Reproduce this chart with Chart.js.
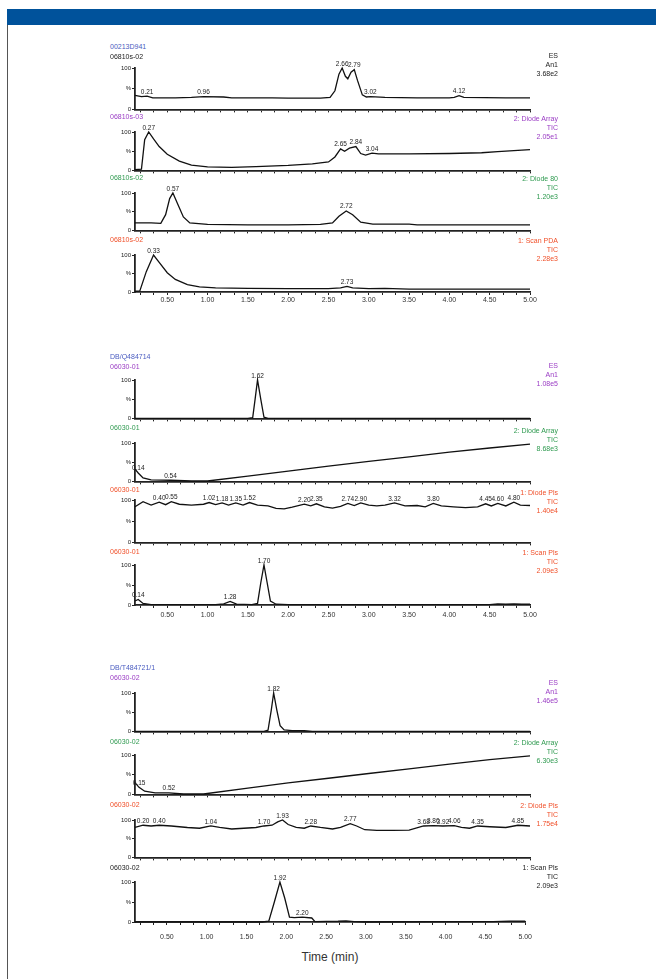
<!DOCTYPE html>
<html><head><meta charset="utf-8">
<script src="https://cdn.jsdelivr.net/npm/chart.js@4.4.1/dist/chart.umd.min.js"></script>
<style>
html,body{margin:0;padding:0;background:#fff;width:656px;height:979px;overflow:hidden;position:relative;font-family:"Liberation Sans",Arial,sans-serif;}
#bar{position:absolute;left:7px;top:9px;width:649px;height:16px;background:#00529b;}
#border{position:absolute;left:7px;top:25px;width:1px;height:954px;background:#555;}
.pnl{position:absolute;left:100px;width:440px;}
.lbl{position:absolute;left:110px;font-size:7px;line-height:8px;white-space:nowrap;}
.rl{position:absolute;right:98px;font-size:7px;line-height:9px;text-align:right;white-space:nowrap;}
#xt{position:absolute;left:230px;width:200px;top:950px;text-align:center;font-size:12px;color:#333;}
</style></head><body>
<div id="bar"></div><div id="border"></div>
<div id="xt">Time (min)</div>
<script>
// ---------- x axis ticks ----------
const xMajor = [0.5, 1.0, 1.5, 2.0, 2.5, 3.0, 3.5, 4.0, 4.5, 5.0];
const xTickLabels = ["0.50","1.00","1.50","2.00","2.50","3.00","3.50","4.00","4.50","5.00"];
const yTickValues = [0, 50, 100];
const yTickText = ["0", "%", "100"];

// ---------- sample 1 : 00213D941 ----------
const s1Titles = ["00213D941", "06810s-02", "06810s-03", "06810s-02", "06810s-02"];
const s1Right = [["ES", "An1", "3.68e2"], ["2: Diode Array", "TIC", "2.05e1"], ["2: Diode 80", "TIC", "1.20e3"], ["1: Scan PDA", "TIC", "2.28e3"]];
const s1ES = [[0.10,34],[0.18,31],[0.25,32],[0.32,28],[0.60,28],[0.80,29],[0.95,31],[1.20,30],[1.30,28],[1.80,28],[2.00,27],[2.40,27],[2.52,29],[2.58,45],[2.63,85],[2.67,100],[2.71,80],[2.74,74],[2.78,90],[2.82,96],[2.86,70],[2.92,35],[2.97,30],[3.02,31],[3.20,29],[3.60,28],[4.00,28],[4.06,29],[4.12,33],[4.18,29],[4.70,28],[5.00,28]];
const s1ESPeaks = [[0.25,"0.21"],[0.95,"0.96"],[2.67,"2.66"],[2.82,"2.79"],[3.02,"3.02"],[4.12,"4.12"]];
const s1DAD = [[0.10,2],[0.18,3],[0.22,80],[0.27,100],[0.33,82],[0.40,62],[0.50,42],[0.65,24],[0.80,14],[1.00,9],[1.30,8],[1.60,10],[2.00,13],[2.30,17],[2.50,22],[2.58,35],[2.65,56],[2.70,50],[2.76,58],[2.84,62],[2.90,44],[2.96,40],[3.04,45],[3.12,43],[3.50,43],[4.00,44],[4.40,46],[4.60,49],[5.00,54]];
const s1DADPeaks = [[0.27,"0.27"],[2.65,"2.65"],[2.84,"2.84"],[3.04,"3.04"]];
const s1D80 = [[0.10,20],[0.30,20],[0.42,19],[0.48,42],[0.53,85],[0.57,100],[0.62,75],[0.70,36],[0.78,20],[1.00,16],[1.50,15],[2.00,15],[2.40,16],[2.55,20],[2.63,38],[2.72,52],[2.80,42],[2.90,22],[3.05,17],[3.50,17],[3.60,15],[5.00,15]];
const s1D80Peaks = [[0.57,"0.57"],[2.72,"2.72"]];
const s1PDA = [[0.10,2],[0.16,3],[0.24,55],[0.33,100],[0.40,80],[0.50,52],[0.60,34],[0.75,20],[0.90,14],[1.10,11],[1.50,10],[2.00,9],[2.50,9],[2.65,11],[2.73,15],[2.80,11],[3.00,9],[3.20,10],[3.50,8],[4.50,8],[5.00,8]];
const s1PDAPeaks = [[0.33,"0.33"],[2.73,"2.73"]];

// ---------- sample 2 : DB/Q484714 ----------
const s2Titles = ["DB/Q484714", "06030-01", "06030-01", "06030-01", "06030-01"];
const s2Right = [["ES", "An1", "1.08e5"], ["2: Diode Array", "TIC", "8.68e3"], ["1: Diode Pls", "TIC", "1.40e4"], ["1: Scan Pls", "TIC", "2.09e3"]];
const s2ES = [[0.10,0],[1.50,0],[1.56,2],[1.59,50],[1.62,100],[1.66,50],[1.70,3],[1.75,0],[5.00,0]];
const s2ESPeaks = [[1.62,"1.62"]];
const s2DA = [[0.10,32],[0.14,22],[0.20,9],[0.30,4],[0.54,3],[0.80,1],[1.00,1],[1.50,14],[2.00,27],[2.50,40],[3.00,52],[3.50,64],[4.00,76],[4.50,87],[5.00,97]];
const s2DAPeaks = [[0.14,"0.14"],[0.54,"0.54"]];
const s2DP = [[0.10,84],[0.20,96],[0.30,88],[0.40,95],[0.48,89],[0.55,96],[0.65,90],[0.80,88],[0.95,90],[1.02,94],[1.10,89],[1.18,93],[1.26,88],[1.35,93],[1.44,88],[1.52,94],[1.62,88],[1.75,86],[1.85,80],[1.95,79],[2.05,83],[2.20,90],[2.28,86],[2.35,91],[2.45,84],[2.55,81],[2.65,85],[2.74,92],[2.82,87],[2.90,93],[3.00,88],[3.10,86],[3.20,88],[3.32,93],[3.45,86],[3.60,87],[3.70,84],[3.80,92],[3.90,86],[4.05,84],[4.20,82],[4.35,84],[4.45,91],[4.52,86],[4.60,92],[4.70,86],[4.80,95],[4.88,88],[5.00,87]];
const s2DPPeaks = [[0.40,"0.40"],[0.55,"0.55"],[1.02,"1.02"],[1.18,"1.18"],[1.35,"1.35"],[1.52,"1.52"],[2.20,"2.20"],[2.35,"2.35"],[2.74,"2.74"],[2.90,"2.90"],[3.32,"3.32"],[3.80,"3.80"],[4.45,"4.45"],[4.60,"4.60"],[4.80,"4.80"]];
const s2SP = [[0.10,10],[0.14,14],[0.20,4],[0.30,1],[1.10,1],[1.20,3],[1.28,9],[1.36,2],[1.55,1],[1.62,4],[1.66,55],[1.70,100],[1.74,55],[1.78,10],[1.85,2],[2.00,1],[4.50,1],[4.60,3],[4.70,2],[4.80,3],[4.90,2],[5.00,2]];
const s2SPPeaks = [[0.14,"0.14"],[1.28,"1.28"],[1.70,"1.70"]];

// ---------- sample 3 : DB/T484721/1 ----------
const s3Titles = ["DB/T484721/1", "06030-02", "06030-02", "06030-02", "06030-02"];
const s3Right = [["ES", "An1", "1.46e5"], ["2: Diode Array", "TIC", "6.30e3"], ["2: Diode Pls", "TIC", "1.75e4"], ["1: Scan Pls", "TIC", "2.09e3"]];
const s3ES = [[0.10,0],[1.70,0],[1.75,3],[1.79,55],[1.82,100],[1.86,55],[1.90,15],[1.95,4],[2.05,2],[2.20,2],[2.30,0],[5.00,0]];
const s3ESPeaks = [[1.82,"1.82"]];
const s3DA = [[0.10,30],[0.15,18],[0.22,8],[0.35,4],[0.52,4],[0.70,1],[0.95,1],[1.50,16],[2.00,29],[2.50,41],[3.00,53],[3.50,65],[4.00,77],[4.50,88],[5.00,98]];
const s3DAPeaks = [[0.15,"0.15"],[0.52,"0.52"]];
const s3DP = [[0.10,80],[0.20,86],[0.30,84],[0.40,86],[0.55,84],[0.75,80],[0.90,78],[1.04,84],[1.15,80],[1.30,76],[1.45,78],[1.60,80],[1.70,84],[1.80,86],[1.87,95],[1.93,100],[2.00,88],[2.10,80],[2.20,78],[2.28,84],[2.40,80],[2.55,76],[2.65,80],[2.77,90],[2.85,84],[2.95,74],[3.10,72],[3.30,72],[3.50,73],[3.68,84],[3.80,85],[3.92,84],[4.06,85],[4.15,80],[4.25,78],[4.35,84],[4.50,82],[4.70,80],[4.85,86],[5.00,84]];
const s3DPPeaks = [[0.20,"0.20"],[0.40,"0.40"],[1.04,"1.04"],[1.70,"1.70"],[1.93,"1.93"],[2.28,"2.28"],[2.77,"2.77"],[3.68,"3.68"],[3.80,"3.80"],[3.92,"3.92"],[4.06,"4.06"],[4.35,"4.35"],[4.85,"4.85"]];
const s3SP = [[0.10,0],[1.70,0],[1.78,2],[1.85,50],[1.92,100],[1.98,60],[2.04,12],[2.10,11],[2.20,12],[2.32,10],[2.36,1],[2.65,2],[2.75,3],[2.85,1],[3.00,0],[4.60,1],[4.80,2],[5.00,2]];
const s3SPPeaks = [[1.92,"1.92"],[2.20,"2.20"]];

// ---------- layout ----------
const C = {blue:"#4a5cc0", purple:"#9a3cc4", green:"#2f9a50", red:"#f0502a", black:"#222"};
const groups = [
  {titles:s1Titles, right:s1Right, titleY:[47,57], labelY:[117,178,240], rightY:[51,114,174,236],
   colors:[C.black,C.purple,C.green,C.red], tickPad:1,
   panels:[[68,110,s1ES,s1ESPeaks],[132,171,s1DAD,s1DADPeaks],[193,231,s1D80,s1D80Peaks],[255,292,s1PDA,s1PDAPeaks]]},
  {titles:s2Titles, right:s2Right, titleY:[357,367], labelY:[428,490,552], rightY:[361,426,488,548],
   colors:[C.purple,C.green,C.red,C.red], tickPad:3,
   panels:[[380,419,s2ES,s2ESPeaks],[443,482,s2DA,s2DAPeaks],[500,543,s2DP,s2DPPeaks],[565,605,s2SP,s2SPPeaks]]},
  {titles:s3Titles, right:s3Right, titleY:[668,678], labelY:[742,805,868], rightY:[678,738,801,863],
   colors:[C.purple,C.green,C.red,C.black], tickPad:8,
   panels:[[693,732,s3ES,s3ESPeaks],[755,795,s3DA,s3DAPeaks],[820,858,s3DP,s3DPPeaks],[882,922,s3SP,s3SPPeaks]]}
];

Chart.defaults.font.family = '"Liberation Sans", Arial, sans-serif';
const minorTicks = [];
for (let k = 1; k <= 30; k++) minorTicks.push(k / 6);

function interp(d, t){
  for (let i = 0; i < d.length - 1; i++){
    if (t >= d[i][0] && t <= d[i+1][0]){
      const f = (t - d[i][0]) / (d[i+1][0] - d[i][0]);
      return d[i][1] + f * (d[i+1][1] - d[i][1]);
    }
  }
  return d[d.length-1][1];
}

function makeChart(top, bottom, data, peaks, withLabels, tickPad){
  const padTop = 10;
  const xh = withLabels ? 10 + tickPad : 4;
  const wrap = document.createElement('div');
  wrap.className = 'pnl';
  wrap.style.top = (top - padTop) + 'px';
  wrap.style.height = (bottom - top + padTop + xh) + 'px';
  const cv = document.createElement('canvas');
  wrap.appendChild(cv);
  document.body.appendChild(wrap);
  const peakPlugin = {
    id: 'peaks',
    afterDatasetsDraw(chart){
      const ctx = chart.ctx, xs = chart.scales.x, ys = chart.scales.y;
      ctx.save();
      ctx.font = '6.5px "Liberation Sans", Arial, sans-serif';
      ctx.fillStyle = '#222';
      ctx.textAlign = 'center';
      ctx.textBaseline = 'bottom';
      peaks.forEach(([t, txt]) => {
        ctx.fillText(txt, xs.getPixelForValue(t), ys.getPixelForValue(interp(data, t)) - 1);
      });
      ctx.restore();
    }
  };
  new Chart(cv, {
    type: 'line',
    data: {datasets: [{data: data.map(([x, y]) => ({x, y})), borderColor: '#111', borderWidth: 1.3, pointRadius: 0, tension: 0, clip: false}]},
    options: {
      responsive: true, maintainAspectRatio: false, animation: false, events: [],
      layout: {padding: {top: padTop, right: 10, left: 0, bottom: 0}},
      plugins: {legend: {display: false}, tooltip: {enabled: false}},
      scales: {
        x: {type: 'linear', min: 0.1, max: 5.0,
          afterBuildTicks: s => { s.ticks = minorTicks.map(v => ({value: v})); },
          afterFit: s => { s.height = xh; },
          grid: {drawOnChartArea: false, drawTicks: true, tickLength: 3, color: '#222', lineWidth: 1},
          border: {display: true, color: '#222', width: 1.8},
          ticks: {display: withLabels, autoSkip: false, maxRotation: 0, padding: tickPad, font: {size: 7}, color: '#333',
            callback: v => { const i = xMajor.findIndex(m => Math.abs(m - v) < 1e-6); return i >= 0 ? xTickLabels[i] : ''; }}
        },
        y: {min: 0, max: 100,
          afterBuildTicks: s => { s.ticks = yTickValues.map(v => ({value: v})); },
          afterFit: s => { s.width = 35; },
          grid: {drawOnChartArea: false, tickLength: 3, color: '#222'},
          border: {display: true, color: '#222', width: 1.8},
          ticks: {padding: 1, font: {size: 6}, color: '#222',
            callback: v => { const i = yTickValues.indexOf(v); return i >= 0 ? yTickText[i] : ''; }}
        }
      }
    },
    plugins: [peakPlugin]
  });
}

function addText(cls, top, text, color){
  const d = document.createElement('div');
  d.className = cls; d.style.top = top + 'px'; d.style.color = color;
  d.innerHTML = text;
  document.body.appendChild(d);
}

groups.forEach(g => {
  g.panels.forEach((p, i) => makeChart(p[0], p[1], p[2], p[3], i === 3, g.tickPad));
  addText('lbl', g.titleY[0] - 4, g.titles[0], C.blue);
  addText('lbl', g.titleY[1] - 4, g.titles[1], g.colors[0]);
  g.labelY.forEach((y, i) => addText('lbl', y - 4, g.titles[i + 2], g.colors[i + 1]));
  g.right.forEach((lines, i) => addText('rl', g.rightY[i], lines.join('<br>'), g.colors[i]));
});
</script>
</body></html>
